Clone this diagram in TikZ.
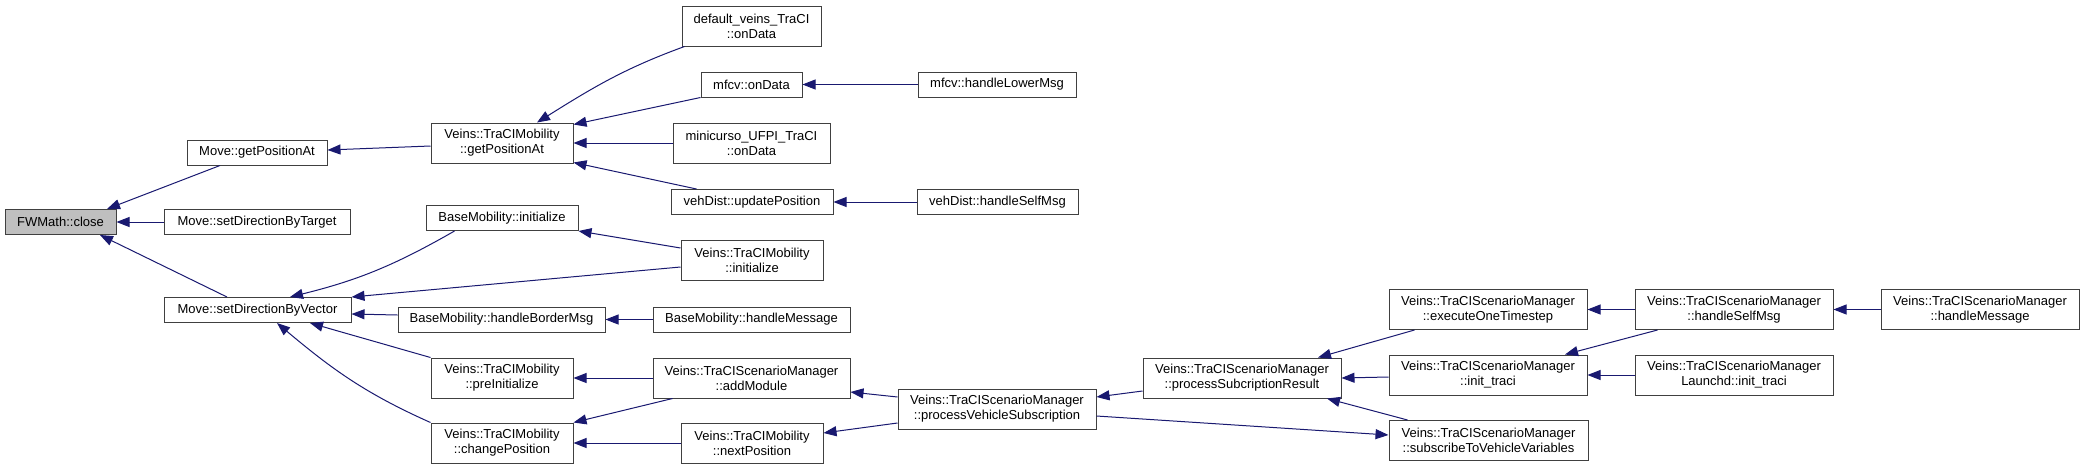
\documentclass[tikz,border=0pt]{standalone}
\usepackage{fontspec}
\setmainfont{Liberation Sans}
\usetikzlibrary{arrows.meta}
\definecolor{midnight}{HTML}{191970}

\begin{document}
\begin{tikzpicture}[x=1pt,y=-1pt]
\tikzset{fn/.style={draw=black!75,fill=white,line width=1pt,inner sep=0pt,align=center,
    minimum height=25pt,font=\fontsize{13}{15}\selectfont},
  fntwo/.style={fn,minimum height=40pt},
  root/.style={fn,fill=black!25},
  call/.style={draw=midnight,line width=1pt,-{Triangle[length=13pt,width=10pt]}}}
\useasboundingbox (0,0) rectangle (2084,469);

\node[root,minimum width=111pt] (close) at (60.5,222) {FWMath::close};

\node[fn,minimum width=140pt] (mgetpos) at (257,152.5) {Move::getPositionAt};
\node[fn,minimum width=186pt] (mdirtarget) at (257,222) {Move::setDirectionByTarget};
\node[fn,minimum width=187pt] (mdirvec) at (257.5,310) {Move::setDirectionByVector};

\node[fntwo,minimum width=142pt] (tgetpos) at (502,143) {Veins::TraCIMobility\\::getPositionAt};
\node[fn,minimum width=152pt] (binit) at (502,218) {BaseMobility::initialize};
\node[fn,minimum width=207pt] (bborder) at (501.5,319.5) {BaseMobility::handleBorderMsg};
\node[fntwo,minimum width=142pt] (tpreinit) at (502,378) {Veins::TraCIMobility\\::preInitialize};
\node[fntwo,minimum width=142pt] (tchange) at (502,443) {Veins::TraCIMobility\\::changePosition};

\node[fntwo,minimum width=139pt] (dveins) at (751.5,26) {default\_veins\_TraCI\\::onData};
\node[fn,minimum width=101pt] (mfcvdata) at (751.5,84.5) {mfcv::onData};
\node[fntwo,minimum width=157pt] (mcurso) at (751.5,143) {minicurso\_UFPI\_TraCI\\::onData};
\node[fn,minimum width=162pt] (vehupd) at (752,202) {vehDist::updatePosition};
\node[fntwo,minimum width=142pt] (tinit) at (752,260) {Veins::TraCIMobility\\::initialize};
\node[fn,minimum width=197pt] (bhandle) at (751.5,319.5) {BaseMobility::handleMessage};
\node[fntwo,minimum width=197pt] (addmod) at (751.5,378) {Veins::TraCIScenarioManager\\::addModule};
\node[fntwo,minimum width=142pt] (nextpos) at (752,443) {Veins::TraCIMobility\\::nextPosition};

\node[fn,minimum width=158pt] (mfcvlower) at (997,84.5) {mfcv::handleLowerMsg};
\node[fn,minimum width=161pt] (vehself) at (997.5,202) {vehDist::handleSelfMsg};
\node[fntwo,minimum width=198pt] (procveh) at (997,409) {Veins::TraCIScenarioManager\\::processVehicleSubscription};

\node[fntwo,minimum width=198pt] (procsub) at (1242,378) {Veins::TraCIScenarioManager\\::processSubcriptionResult};

\node[fntwo,minimum width=198pt] (execone) at (1488,309.5) {Veins::TraCIScenarioManager\\::executeOneTimestep};
\node[fntwo,minimum width=198pt] (inittraci) at (1488,375) {Veins::TraCIScenarioManager\\::init\_traci};
\node[fntwo,minimum width=199pt] (subscr) at (1488.5,440.5) {Veins::TraCIScenarioManager\\::subscribeToVehicleVariables};

\node[fntwo,minimum width=198pt] (hself) at (1734,309.5) {Veins::TraCIScenarioManager\\::handleSelfMsg};
\node[fntwo,minimum width=198pt] (launchd) at (1734,375) {Veins::TraCIScenarioManager\\Launchd::init\_traci};

\node[fntwo,minimum width=198pt] (hmsg) at (1980,309.5) {Veins::TraCIScenarioManager\\::handleMessage};

\draw[call] ([xshift=-37pt]mgetpos.south) -- ([xshift=46.5pt]close.north);
\draw[call] (mdirtarget.west) -- (close.east);
\draw[call] ([xshift=-30.5pt]mdirvec.north) -- ([xshift=39.5pt]close.south);

\draw[call] ([yshift=-3pt]tgetpos.west) -- ([yshift=2.5pt]mgetpos.east);
\draw[call] ([xshift=3pt]dveins.south west) to[out=200,in=32] ([xshift=35pt]tgetpos.north);
\draw[call] (mfcvdata.south west) -- ([yshift=-2pt]tgetpos.north east);
\draw[call] (mcurso.west) -- (tgetpos.east);
\draw[call] ([xshift=26pt]vehupd.north west) -- ([yshift=1pt]tgetpos.south east);
\draw[call] (mfcvlower.west) -- (mfcvdata.east);
\draw[call] (vehself.west) -- (vehupd.east);

\draw[call] ([xshift=29pt]binit.south west) to[bend left=8] ([xshift=32.5pt]mdirvec.north);
\draw[call] ([yshift=12pt]tinit.west) -- (binit.south east);
\draw[call] ([yshift=-7pt]tinit.west) -- (mdirvec.north east);
\draw[call] ([yshift=4.5pt]bborder.west) -- ([yshift=-4pt]mdirvec.east);
\draw[call] (bhandle.west) -- (bborder.east);
\draw[call] (tpreinit.north west) -- ([xshift=52.5pt]mdirvec.south);
\draw[call] (tchange.north west) to[out=156,in=-40] ([xshift=19.5pt]mdirvec.south);

\draw[call] (addmod.west) -- (tpreinit.east);
\draw[call] ([xshift=20pt]addmod.south west) -- (tchange.north east);
\draw[call] (nextpos.west) -- (tchange.east);
\draw[call] ([yshift=12pt]procveh.west) -- ([yshift=-14pt]addmod.east);
\draw[call] ([yshift=-14pt]procveh.west) -- ([yshift=10pt]nextpos.east);

\draw[call] ([yshift=-13pt]procsub.west) -- ([yshift=12pt]procveh.east);
\draw[call] ([yshift=-7pt]procveh.east) -- ([yshift=5.5pt]subscr.west);
\draw[call] ([xshift=26pt]execone.south west) -- ([xshift=76pt]procsub.north);
\draw[call] ([yshift=-2pt]inittraci.west) -- (procsub.east);
\draw[call] ([xshift=19pt]subscr.north west) -- ([xshift=85pt]procsub.south);

\draw[call] (hself.west) -- (execone.east);
\draw[call] ([xshift=23pt]hself.south west) -- ([xshift=77pt]inittraci.north);
\draw[call] (launchd.west) -- (inittraci.east);
\draw[call] (hmsg.west) -- (hself.east);
\end{tikzpicture}
\end{document}
